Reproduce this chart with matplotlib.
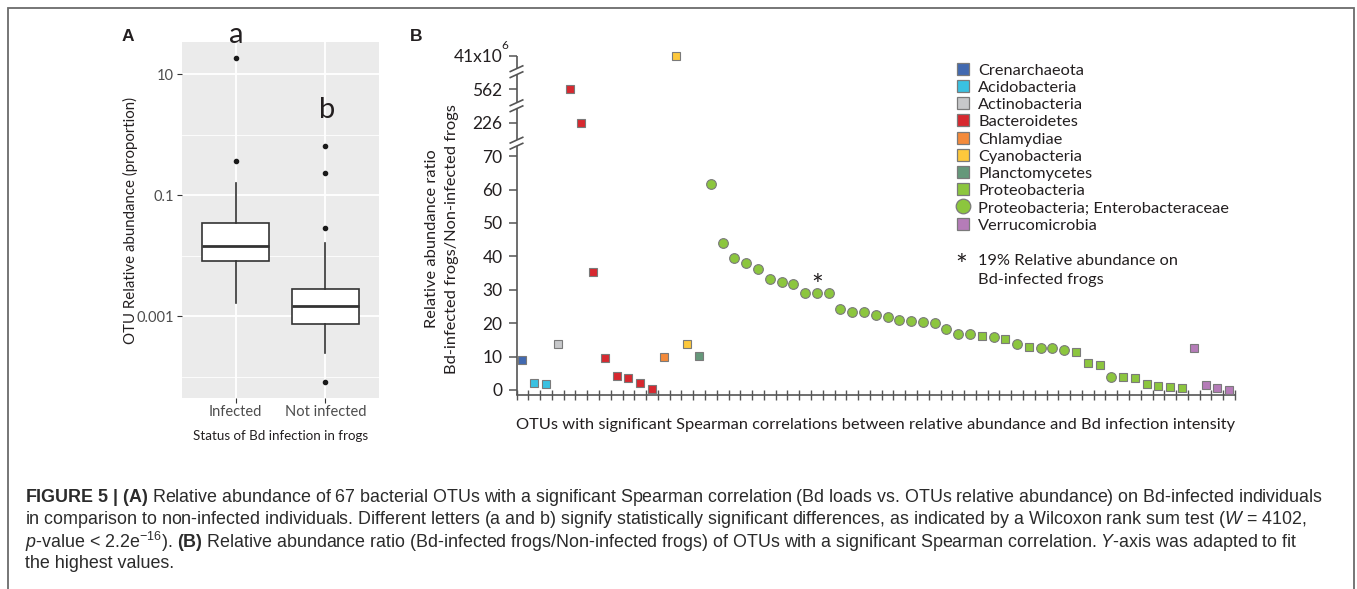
import numpy as np
import matplotlib
matplotlib.use("Agg")
import matplotlib.pyplot as plt
from matplotlib.ticker import NullFormatter, NullLocator

# ---------------------------------------------------------------- data
# Panel A: box-plot summary of OTU relative abundance (proportion)
status_groups = ["Infected", "Not infected"]
box_q1 = [0.0081, 0.00073]
box_median = [0.0144, 0.00146]
box_q3 = [0.0344, 0.00276]
whisker_low = [0.00166, 0.000248]
whisker_high = [0.16, 0.0163]
outliers_infected = [18.6, 0.365]
outliers_not_infected = [0.645, 0.237, 0.0288, 8.2e-5]
group_letters = ["a", "b"]

# Panel B: relative abundance ratio per OTU
phylum_codes = ["CRE", "ACI", "ACT", "BAC", "CHL", "CYA", "PLA", "PRO", "ENT", "VER"]
phylum_names = ["Crenarchaeota", "Acidobacteria", "Actinobacteria", "Bacteroidetes",
                "Chlamydiae", "Cyanobacteria", "Planctomycetes", "Proteobacteria",
                "Proteobacteria; Enterobacteraceae", "Verrucomicrobia"]
phylum_colors = ["#4169b0", "#3ac1e1", "#c7c8ca", "#d7282f", "#f48a3a",
                 "#fdc83c", "#65987a", "#8cc63e", "#8cc63e", "#b57cb8"]

otu_phylum = (["CRE", "ACI", "ACI", "ACT"]
              + ["BAC"] * 8
              + ["CHL", "CYA", "CYA", "PLA"]
              + ["ENT"] * 23
              + ["PRO", "ENT", "PRO", "ENT", "PRO", "ENT", "ENT", "ENT", "PRO",
                 "PRO", "PRO", "ENT", "PRO", "PRO", "PRO", "PRO", "PRO", "PRO"]
              + ["VER"] * 4)
otu_ratio = [9.0, 2.0, 1.8, 13.8,
             562, 226, 35.3, 9.6, 4.3, 3.6, 2.1, 0.3,
             9.9, 41e6, 13.9, 10.2,
             61.8, 44.1, 39.6, 37.9, 36.2, 33.1, 32.2, 31.7, 28.9, 28.9, 28.9,
             24.2, 23.4, 23.4, 22.4, 21.9, 21.0, 20.6, 20.3, 20.1, 18.4, 16.8, 16.8,
             16.2, 15.9, 15.2, 13.9, 13.0, 12.5, 12.5, 11.9, 11.3, 8.0, 7.5, 4.0,
             3.9, 3.6, 1.7, 1.1, 0.9, 0.5,
             12.5, 1.5, 0.5, 0.1]
starred_otu = 26  # OTU with 19% relative abundance on Bd-infected frogs

ratio_ticks = [0, 10, 20, 30, 40, 50, 60, 70, 226, 562, 41e6]
ratio_tick_labels = ["0", "10", "20", "30", "40", "50", "60", "70", "226", "562", "41x10"]

caption_lines = [
    r"$\mathbf{FIGURE\ 5\ |\ (A)}$ Relative abundance of 67 bacterial OTUs with a significant Spearman correlation (Bd loads vs. OTUs relative abundance) on Bd-infected individuals",
    r"in comparison to non-infected individuals. Different letters (a and b) signify statistically significant differences, as indicated by a Wilcoxon rank sum test ($\mathit{W}$ = 4102,",
    r"$\mathit{p}$-value < 2.2e$^{-16}$). $\mathbf{(B)}$ Relative abundance ratio (Bd-infected frogs/Non-infected frogs) of OTUs with a significant Spearman correlation. $\mathit{Y}$-axis was adapted to fit",
    r"the highest values.",
]

# ---------------------------------------------------------------- setup
W, H = 1357, 589
plt.rcParams["font.family"] = ["Lato", "DejaVu Sans"]
plt.rcParams["mathtext.fontset"] = "custom"
plt.rcParams["mathtext.rm"] = "Liberation Sans"
plt.rcParams["mathtext.it"] = "Liberation Sans:italic"
plt.rcParams["mathtext.bf"] = "Liberation Sans:bold"

fig = plt.figure(figsize=(W / 100, H / 100), dpi=100)
fig.patch.set_facecolor("white")


def px_axes(left, top, right, bottom):
    return fig.add_axes([left / W, (H - bottom) / H, (right - left) / W, (bottom - top) / H])


dark = "#231f20"
edge = "#7a7a7a"

# ---------------------------------------------------------------- panel A
axA = px_axes(181.7, 41.7, 379.3, 397.7)
axA.set_facecolor("#EBEBEB")
for s in axA.spines.values():
    s.set_visible(False)
axA.set_yscale("log")
axA.set_xlim(0.4, 2.6)
axA.set_ylim(4.47e-5, 34.6)

stats = []
fliers = [outliers_infected, outliers_not_infected]
for i in range(len(status_groups)):
    stats.append(dict(q1=box_q1[i], med=box_median[i], q3=box_q3[i],
                      whislo=whisker_low[i], whishi=whisker_high[i], fliers=fliers[i]))
axA.bxp(stats, positions=[1, 2], widths=0.75, patch_artist=True, showcaps=False,
        manage_ticks=False,
        boxprops=dict(facecolor="white", edgecolor="#333333", linewidth=1.2),
        medianprops=dict(color="#333333", linewidth=2.0),
        whiskerprops=dict(color="#333333", linewidth=1.2),
        flierprops=dict(marker="o", markerfacecolor="#1a1a1a", markeredgecolor="#1a1a1a",
                        markersize=3.0, linestyle="none"))

axA.set_yticks([10, 0.1, 0.001])
axA.set_yticklabels(["10", "0.1", "0.001"])
axA.set_yticks([1, 0.01, 1e-4], minor=True)
axA.yaxis.set_minor_formatter(NullFormatter())
axA.set_xticks([1, 2])
axA.set_xticklabels(status_groups)
axA.tick_params(axis="both", which="major", colors="#333333", labelcolor="#4D4D4D",
                labelsize=10.5, length=3.5, width=0.8, pad=2)
axA.tick_params(axis="y", which="minor", length=0)
axA.grid(True, which="major", color="white", linewidth=1.3)
axA.grid(True, which="minor", axis="y", color="white", linewidth=0.6)
axA.set_axisbelow(True)

# ---------------------------------------------------------------- panel B
axB = px_axes(516.5, 56, 1235, 395)
brk_vals = [-100, 70, 226, 562, 41e6, 4.1e9]
brk_pos = [-100, 70, 80, 90, 100, 110]


def fwd(v):
    return np.interp(v, brk_vals, brk_pos)


def inv(p):
    return np.interp(p, brk_pos, brk_vals)


axB.set_yscale("function", functions=(fwd, inv))
n_otu = len(otu_ratio)
x = np.arange(1, n_otu + 1)
axB.set_xlim(0.5, n_otu + 0.5)
axB.set_ylim(-1.5, 41e6)

for code, color in zip(phylum_codes, phylum_colors):
    idx = [i for i, p in enumerate(otu_phylum) if p == code]
    if not idx:
        continue
    mk = "o" if code == "ENT" else "s"
    axB.plot(x[idx], np.array(otu_ratio)[idx], linestyle="none", marker=mk,
             markersize=7.0 if mk == "o" else 6.2, markerfacecolor=color,
             markeredgecolor=edge, markeredgewidth=0.8, clip_on=False, zorder=3)

axB.annotate("*", xy=(starred_otu, otu_ratio[starred_otu - 1]), xytext=(0, -1.4),
             textcoords="offset points", ha="center", va="baseline", fontsize=20,
             color=dark)

for s in ["top", "right", "left"]:
    axB.spines[s].set_visible(False)
axB.spines["bottom"].set_color("#555555")
axB.spines["bottom"].set_linewidth(1.2)

axB.set_yticks(ratio_ticks)
axB.set_yticklabels(ratio_tick_labels)
axB.yaxis.set_minor_locator(NullLocator())
axB.set_xticks(np.arange(0.5, n_otu + 1.0, 1.0))
axB.set_xticklabels([])
axB.tick_params(axis="y", direction="out", length=6, width=1.1, colors="#555555",
                labelcolor=dark, labelsize=12.5, pad=4)
axB.tick_params(axis="x", direction="inout", length=7, width=1.0, colors="#555555")

# broken left spine drawn in axes coordinates
spine_kw = dict(transform=axB.transAxes, color="#555555", linewidth=1.2, clip_on=False,
                solid_capstyle="butt")
brk_centers = [73.9, 85.1, 95.3]
hb = 101.5
fr = [(b + 1.5) / hb for b in brk_centers]
gap = 3.0 / 339
segs = [(0, fr[0] - gap)] + [(fr[i] + gap, fr[i + 1] - gap) for i in range(2)] + [(fr[2] + gap, 1)]
for a, b in segs:
    axB.plot([0, 0], [a, b], **spine_kw)
dx = 7.0 / 718.5
dy = 3.2 / 339
for f in fr:
    for off in (-gap, gap):
        axB.plot([-dx, dx], [f + off - dy, f + off + dy], **spine_kw)

# ---------------------------------------------------------------- overlay (pixel coords)
ov = fig.add_axes([0, 0, 1, 1])
ov.set_xlim(0, W)
ov.set_ylim(H, 0)
ov.axis("off")
ov.patch.set_alpha(0)

# frame
ov.plot([8, 8, 1354, 1354], [600, 8, 8, 600], color="#6b6b6b", linewidth=1.3,
        solid_joinstyle="miter")

# panel labels
ov.text(128, 41, "A", fontsize=12.5, fontweight="bold", family="Liberation Sans",
        ha="center", va="baseline", color=dark)
ov.text(416.5, 41, "B", fontsize=12.5, fontweight="bold", family="Liberation Sans",
        ha="center", va="baseline", color=dark)

# panel A texts
ov.text(130, 220, "OTU Relative abundance (proportion)", rotation=90, ha="center",
        va="center", fontsize=10.8, color=dark)
ov.text(280.5, 436, "Status of Bd infection in frogs", ha="center", va="center",
        fontsize=9.6, color=dark)
ov.text(236, 43, group_letters[0], ha="center", va="baseline", fontsize=21, color=dark)
ov.text(326.7, 118, group_letters[1], ha="center", va="baseline", fontsize=21, color=dark)

# panel B texts
fsB = 11.8
ov.text(431.7, 239, "Relative abundance ratio", rotation=90, ha="center", va="center",
        fontsize=fsB, color=dark)
ov.text(451.7, 239, "Bd-infected frogs/Non-infected frogs", rotation=90, ha="center",
        va="center", fontsize=fsB, color=dark)
ov.text(876, 429, "OTUs with significant Spearman correlations between relative abundance and Bd infection intensity",
        ha="center", va="baseline", fontsize=fsB, color=dark)
ov.text(501.5, 49, "6", ha="left", va="baseline", fontsize=8.5, color=dark)

# legend
for i, (name, color, code) in enumerate(zip(phylum_names, phylum_colors, phylum_codes)):
    yc = 68.8 + i * 17.2
    mk = "o" if code == "ENT" else "s"
    ov.plot([963], [yc], marker=mk, markersize=10.5 if mk == "o" else 9.2,
            markerfacecolor=color, markeredgecolor=edge, markeredgewidth=0.9)
    ov.text(978, yc + 6, name, ha="left", va="baseline", fontsize=fsB, color=dark)
ov.text(961, 274.5, "*", ha="center", va="baseline", fontsize=20, color=dark)
ov.text(978, 265, "19% Relative abundance on", ha="left", va="baseline", fontsize=fsB, color=dark)
ov.text(978, 284, "Bd-infected frogs", ha="left", va="baseline", fontsize=fsB, color=dark)

# caption (one multi-line text)
ov.text(25, 487.5, "\n".join(caption_lines), ha="left", va="top", fontsize=12.9,
        family="Liberation Sans", color="#2b2b2b", linespacing=1.02)

fig.savefig("out.png", dpi=100, facecolor="white")
